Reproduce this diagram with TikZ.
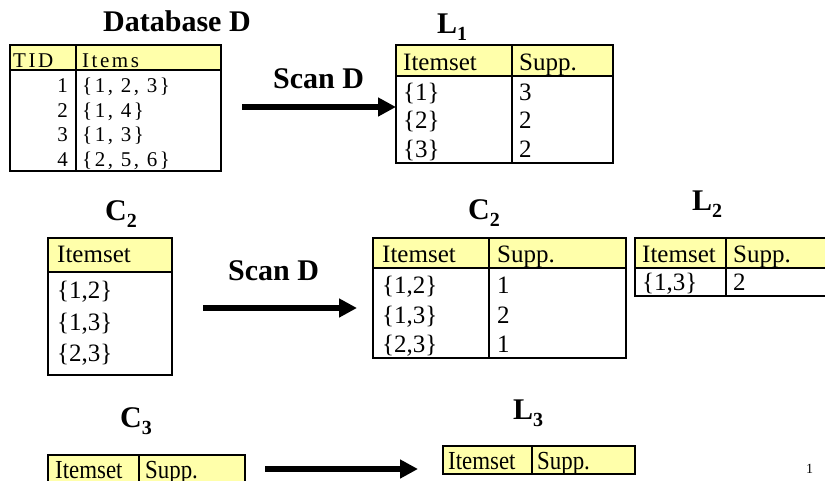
\documentclass[tikz,border=0pt]{standalone}
\usepackage{fontspec}
\setmainfont{Liberation Serif}
\usetikzlibrary{arrows.meta}
\definecolor{hdr}{RGB}{255,255,170}
\newcommand\lowsub[1]{\raisebox{-7pt}{\fontsize{20}{20}\selectfont #1}}
\tikzset{
  title/.style={font=\fontsize{30}{30}\selectfont\bfseries, inner sep=0pt, anchor=base west},
  cell/.style={font=\fontsize{25}{25}\selectfont, inner sep=0pt, anchor=base west},
  dbcell/.style={font=\fontsize{21}{21}\selectfont\addfontfeature{LetterSpace=12}, inner sep=0pt, anchor=base west},
  dbnum/.style={dbcell, anchor=base east},
  narrowcell/.style={font=\fontsize{26}{26}\selectfont\addfontfeature{FakeStretch=0.88}, inner sep=0pt, anchor=base west},
  frame/.style={draw=black, line width=2pt},
  rulel/.style={draw=black, line width=1.5pt},
  headfill/.style={fill=hdr},
  bigarrow/.style={draw=black, line width=6pt, -{Triangle[length=18pt,width=18pt]}},
}
\begin{document}
\begin{tikzpicture}[x=1pt,y=-1pt]
\useasboundingbox (0,0) rectangle (825,480);
\clip (0,0) rectangle (825,480);

% ---------- Database D ----------
\node[title] (tDB) at (103,31) {Database D};
\fill[headfill] (10,45) rectangle (221,70);
\draw[rulel] (10,70) -- (221,70) (76,45) -- (76,171);
\draw[frame] (10,45) rectangle (221,171);
\node[dbcell] (dbh1) at (13,67) {TID};
\node[dbcell] (dbh2) at (82,67) {Items};
\node[dbnum] (db1a) at (68,92) {1};
\node[dbcell] (db1b) at (82,92) {\{1, 2, 3\}};
\node[dbnum] (db2a) at (68,117) {2};
\node[dbcell] (db2b) at (82,117) {\{1, 4\}};
\node[dbnum] (db3a) at (68,141) {3};
\node[dbcell] (db3b) at (82,141) {\{1, 3\}};
\node[dbnum] (db4a) at (68,166) {4};
\node[dbcell] (db4b) at (82,166) {\{2, 5, 6\}};

% ---------- first scan ----------
\node[title] (scan1) at (273,88) {Scan D};
\coordinate (a1s) at (242,107);
\coordinate (a1e) at (396,107);
\draw[bigarrow] (a1s) -- (a1e);

% ---------- L1 ----------
\node[title] (tL1) at (437,33) {L\lowsub{1}};
\fill[headfill] (396,45) rectangle (613,76);
\draw[rulel] (396,76) -- (613,76) (512,45) -- (512,163);
\draw[frame] (396,45) rectangle (613,163);
\node[cell] (l1h1) at (403,70) {Itemset};
\node[cell] (l1h2) at (519,70) {Supp.};
\node[cell] (l1r1a) at (403,100) {\{1\}};
\node[cell] (l1r1b) at (519,100) {3};
\node[cell] (l1r2a) at (403,128) {\{2\}};
\node[cell] (l1r2b) at (519,128) {2};
\node[cell] (l1r3a) at (403,157) {\{3\}};
\node[cell] (l1r3b) at (519,157) {2};

% ---------- C2 candidates ----------
\node[title] (tC2a) at (105,220) {C\lowsub{2}};
\fill[headfill] (48,238) rectangle (172,272);
\draw[rulel] (48,272) -- (172,272);
\draw[frame] (48,238) rectangle (172,375);
\node[cell] (c2h) at (57,262) {Itemset};
\node[cell] (c2r1) at (57,298) {\{1,2\}};
\node[cell] (c2r2) at (57,330) {\{1,3\}};
\node[cell] (c2r3) at (57,361) {\{2,3\}};

% ---------- second scan ----------
\node[title] (scan2) at (228,280) {Scan D};
\coordinate (a2s) at (203,308);
\coordinate (a2e) at (357,308);
\draw[bigarrow] (a2s) -- (a2e);

% ---------- C2 with counts ----------
\node[title] (tC2b) at (468,219) {C\lowsub{2}};
\fill[headfill] (373,238) rectangle (626,268);
\draw[rulel] (373,268) -- (626,268) (489,238) -- (489,358);
\draw[frame] (373,238) rectangle (626,358);
\node[cell] (c2bh1) at (382,262) {Itemset};
\node[cell] (c2bh2) at (497,262) {Supp.};
\node[cell] (c2br1a) at (382,293) {\{1,2\}};
\node[cell] (c2br1b) at (497,293) {1};
\node[cell] (c2br2a) at (382,323) {\{1,3\}};
\node[cell] (c2br2b) at (497,323) {2};
\node[cell] (c2br3a) at (382,352) {\{2,3\}};
\node[cell] (c2br3b) at (497,352) {1};

% ---------- L2 ----------
\node[title] (tL2) at (692,210) {L\lowsub{2}};
\fill[headfill] (635,238) rectangle (845,268);
\draw[rulel] (635,268) -- (845,268) (726,238) -- (726,296);
\draw[frame] (635,238) rectangle (845,296);
\node[cell] (l2h1) at (642,262) {Itemset};
\node[cell] (l2h2) at (733,262) {Supp.};
\node[cell] (l2r1a) at (642,290) {\{1,3\}};
\node[cell] (l2r1b) at (733,290) {2};

% ---------- C3 ----------
\node[title] (tC3) at (120,427) {C\lowsub{3}};
\fill[headfill] (48,455) rectangle (245,500);
\draw[rulel] (139,455) -- (139,500);
\draw[frame] (48,455) rectangle (245,500);
\node[narrowcell] (c3h1) at (55,478) {Itemset};
\node[narrowcell] (c3h2) at (145,478) {Supp.};

% ---------- third step ----------
\coordinate (a3s) at (265,469);
\coordinate (a3e) at (418,469);
\draw[bigarrow] (a3s) -- (a3e);

% ---------- L3 ----------
\node[title] (tL3) at (513,419) {L\lowsub{3}};
\fill[headfill] (443,446) rectangle (635,474);
\draw[rulel] (532,446) -- (532,474);
\draw[frame] (443,446) rectangle (635,474);
\node[narrowcell] (l3h1) at (448,469) {Itemset};
\node[narrowcell] (l3h2) at (537,469) {Supp.};

% page number
\node[font=\fontsize{14}{14}\selectfont, inner sep=0pt, anchor=base west] (pgno) at (806,473) {1};
\end{tikzpicture}
\end{document}
